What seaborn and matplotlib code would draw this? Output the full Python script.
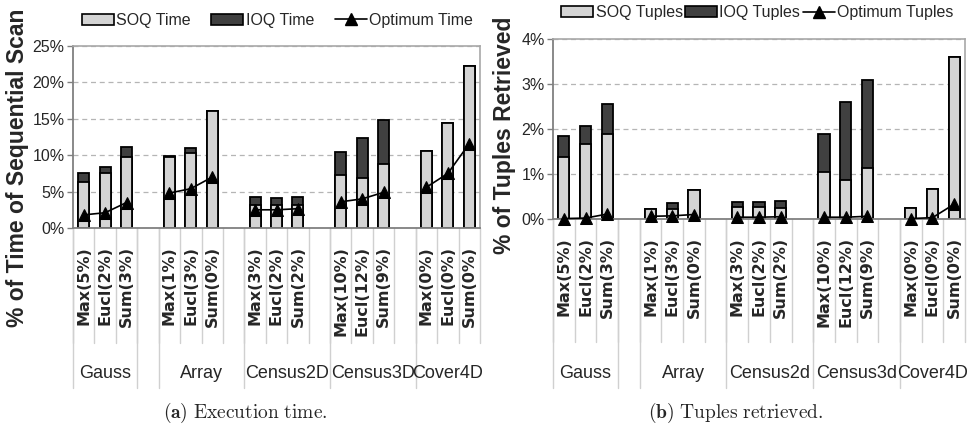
import numpy as np
import pandas as pd
import matplotlib
matplotlib.use("Agg")
import matplotlib.pyplot as plt
import matplotlib.transforms as mtransforms
from matplotlib.patches import Patch
from matplotlib.lines import Line2D
from matplotlib.ticker import PercentFormatter, MultipleLocator
import seaborn as sns

# ---------------- data ----------------
groups_time = ["Gauss", "Array", "Census2D", "Census3D", "Cover4D"]
groups_tuples = ["Gauss", "Array", "Census2d", "Census3d", "Cover4D"]
sub_labels = [
    ["Max(5%)", "Eucl(2%)", "Sum(3%)"],
    ["Max(1%)", "Eucl(3%)", "Sum(0%)"],
    ["Max(3%)", "Eucl(2%)", "Sum(2%)"],
    ["Max(10%)", "Eucl(12%)", "Sum(9%)"],
    ["Max(0%)", "Eucl(0%)", "Sum(0%)"],
]

# execution time, % of sequential scan
time_soq = [6.3, 7.6, 9.8, 9.8, 10.25, 16.1, 3.2, 3.1, 3.2, 7.3, 6.8, 8.8, 10.6, 14.4, 22.3]
time_ioq = [1.2, 0.8, 1.3, 0.1, 0.7, 0.0, 1.05, 1.0, 1.05, 3.2, 5.5, 6.1, 0.0, 0.0, 0.0]
time_opt = [1.8, 2.1, 3.5, 4.8, 5.4, 7.0, 2.5, 2.5, 2.65, 3.6, 4.0, 4.9, 5.6, 7.5, 11.6]

# tuples retrieved, % of tuples
tuples_soq = [1.37, 1.67, 1.89, 0.23, 0.23, 0.65, 0.27, 0.27, 0.245, 1.05, 0.86, 1.14, 0.25, 0.66, 3.6]
tuples_ioq = [0.48, 0.40, 0.67, 0.0, 0.13, 0.0, 0.10, 0.10, 0.155, 0.83, 1.73, 1.96, 0.0, 0.0, 0.0]
tuples_opt = [0.01, 0.02, 0.11, 0.06, 0.07, 0.10, 0.04, 0.04, 0.05, 0.04, 0.04, 0.06, 0.01, 0.03, 0.33]

SOQ_COLOR = "#d4d4d4"
IOQ_COLOR = "#404040"
SANS = ["Liberation Sans", "DejaVu Sans"]

sns.set_style("white")
plt.rcParams["font.family"] = SANS
plt.rcParams["mathtext.fontset"] = "cm"

W, H = 967, 428
fig = plt.figure(figsize=(W / 100, H / 100), dpi=100)


def px_axes(x0, x1, ytop, ybot):
    return fig.add_axes([x0 / W, 1 - ybot / H, (x1 - x0) / W, (ybot - ytop) / H])


def build_frame(soq, ioq, opt):
    # Excel-style slots: 3 bars per dataset, one empty slot in between
    pos = [4 * g + m for g in range(5) for m in range(3)]
    grp = [g for g in range(5) for m in range(3)]
    df = pd.DataFrame({"pos": pos, "group": grp, "soq": soq, "ioq": ioq, "opt": opt})
    df["total"] = df["soq"] + df["ioq"]
    return df


def draw_panel(ax, df, ymax, ystep, groups, legend_names, legend_xy, colspace,
               ax_bottom_px, sub_top_px, short_px, long_px, group_px):
    sns.barplot(data=df, x="pos", y="total", native_scale=True, orient="x", width=0.52,
                color=IOQ_COLOR, saturation=1, edgecolor="black", linewidth=1.3,
                errorbar=None, ax=ax)
    sns.barplot(data=df, x="pos", y="soq", native_scale=True, orient="x", width=0.52,
                color=SOQ_COLOR, saturation=1, edgecolor="black", linewidth=1.3,
                errorbar=None, ax=ax)
    sns.lineplot(data=df, x="pos", y="opt", units="group", estimator=None, color="black",
                 marker="^", markersize=8, markeredgecolor="black", linewidth=1.2,
                 legend=False, ax=ax, clip_on=False, zorder=5)

    ax.set_xlim(-0.5, 18.5)
    ax.set_ylim(0, ymax)
    ax.yaxis.set_major_locator(MultipleLocator(ystep))
    ax.yaxis.set_major_formatter(PercentFormatter(xmax=100, decimals=0))
    ax.set_xticks([])
    ax.set_xlabel("")
    ax.set_ylabel("")
    ax.yaxis.grid(True, linestyle=(0, (4, 3)), color="#b5b5b5", linewidth=0.9)
    ax.set_axisbelow(True)
    ax.tick_params(axis="y", left=True, length=4, width=1, color="#808080",
                   labelsize=11.5, pad=2)
    for s in ["top", "right"]:
        ax.spines[s].set_color("#a8a8a8")
        ax.spines[s].set_linewidth(1.2)
    for s in ["left", "bottom"]:
        ax.spines[s].set_color("#808080")
        ax.spines[s].set_linewidth(1.3)

    # multi-level category axis below the plot
    h_px = ax.get_position().height * H
    frac = lambda y: (ax_bottom_px - y) / h_px
    trans = mtransforms.blended_transform_factory(ax.transData, ax.transAxes)
    for b in np.arange(-0.5, 19, 1.0):
        ax.plot([b, b], [0, frac(short_px)], transform=trans, color="#d0d0d0",
                lw=1, clip_on=False)
    edges = [(-0.5, 2.5), (3.5, 7.5), (7.5, 11.5), (11.5, 15.5), (15.5, 18.5)]
    for b in [-0.5, 2.5, 3.5, 7.5, 11.5, 15.5]:
        ax.plot([b, b], [0, frac(long_px)], transform=trans, color="#d0d0d0",
                lw=1, clip_on=False)
    for g, (a, b) in enumerate(edges):
        ax.text((a + b) / 2, frac(group_px), groups[g], transform=trans, ha="center",
                va="center", fontsize=13)
        for m in range(3):
            ax.text(4 * g + m, frac(sub_top_px), sub_labels[g][m], transform=trans,
                    rotation=90, ha="center", va="top", fontsize=11.5,
                    fontweight="bold", family=["DejaVu Sans"])

    handles = [Patch(facecolor=SOQ_COLOR, edgecolor="black", linewidth=1.2),
               Patch(facecolor=IOQ_COLOR, edgecolor="black", linewidth=1.2),
               Line2D([0], [0], color="black", marker="^", markersize=8, lw=1.2)]
    ax.legend(handles, legend_names, loc="center", bbox_to_anchor=legend_xy, ncol=3,
              frameon=False, fontsize=11.5, handlelength=2.0, handletextpad=0.15,
              columnspacing=colspace, borderaxespad=0)


# (a) execution time
ax1 = px_axes(73, 480, 46, 228)
draw_panel(ax1, build_frame(time_soq, time_ioq, time_opt), 25, 5, groups_time,
           ["SOQ Time", "IOQ Time", "Optimum Time"], (0.502, 1.14), 1.3,
           228, 246, 343, 388, 374)

# (b) tuples retrieved
ax2 = px_axes(553, 965, 39, 219)
draw_panel(ax2, build_frame(tuples_soq, tuples_ioq, tuples_opt), 4, 1, groups_tuples,
           ["SOQ Tuples", "IOQ Tuples", "Optimum Tuples"], (0.496, 1.145), 0.15,
           219, 237, 342, 388, 373)

fig.text(18 / W, 1 - 327 / H, "% of Time of Sequential Scan", rotation=90, ha="center",
         va="bottom", fontsize=16.5, fontweight="bold")
fig.text(505 / W, 1 - 254 / H, "% of Tuples Retrieved", rotation=90, ha="center",
         va="bottom", fontsize=16.5, fontweight="bold")

fig.text(245 / W, 1 - 413 / H, r"$\mathbf{(a)}\ \mathrm{Execution\ time.}$",
         ha="center", va="center", fontsize=14)
fig.text(736 / W, 1 - 413 / H, r"$\mathbf{(b)}\ \mathrm{Tuples\ retrieved.}$",
         ha="center", va="center", fontsize=14)

fig.savefig("out.png", dpi=100)
